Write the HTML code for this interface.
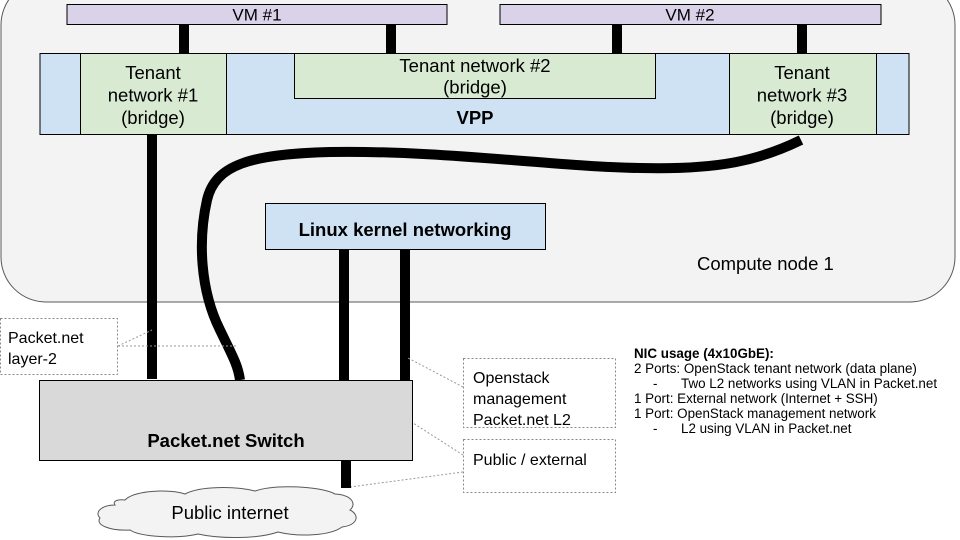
<!DOCTYPE html>
<html><head><meta charset="utf-8"><style>
html,body{margin:0;padding:0;background:#fff;}
svg{display:block;font-family:"Liberation Sans",Arial,sans-serif;}
</style></head><body>
<svg width="960" height="540" viewBox="0 0 960 540" xmlns="http://www.w3.org/2000/svg">
<rect x="1" y="-20" width="954" height="322" rx="45" ry="45" fill="#f3f3f3" stroke="#595959" stroke-width="1"/>
<g fill="#000">
<rect x="179" y="24" width="10" height="30"/>
<rect x="386" y="24" width="10" height="30"/>
<rect x="612" y="24" width="10" height="30"/>
<rect x="797" y="24" width="10" height="30"/>
</g>
<rect x="67" y="4.5" width="380" height="20" fill="#d9d2e9" stroke="#000" stroke-width="1"/>
<text x="257" y="20.5" font-size="17" text-anchor="middle" fill="#000">VM #1</text>
<rect x="500" y="4.5" width="381" height="20" fill="#d9d2e9" stroke="#000" stroke-width="1"/>
<text x="690" y="20.5" font-size="17" text-anchor="middle" fill="#000">VM #2</text>
<rect x="40" y="53.5" width="869" height="81" fill="#cfe2f3" stroke="#000" stroke-width="1"/>
<text x="475" y="124" font-size="18.5" font-weight="bold" text-anchor="middle">VPP</text>
<rect x="80.5" y="53.5" width="146" height="81" fill="#d9ead3" stroke="#000" stroke-width="1"/>
<g font-size="18.5" text-anchor="middle">
<text x="153" y="79">Tenant</text><text x="153" y="101.5">network #1</text><text x="153" y="124">(bridge)</text>
</g>
<rect x="294.5" y="53.5" width="361" height="45" fill="#d9ead3" stroke="#000" stroke-width="1"/>
<g font-size="18.5" text-anchor="middle">
<text x="475" y="72">Tenant network #2</text><text x="475" y="93.5">(bridge)</text>
</g>
<rect x="729.5" y="53.5" width="147" height="81" fill="#d9ead3" stroke="#000" stroke-width="1"/>
<g font-size="18.5" text-anchor="middle">
<text x="802" y="79">Tenant</text><text x="802" y="101.5">network #3</text><text x="802" y="124">(bridge)</text>
</g>
<rect x="147" y="134" width="10" height="245" fill="#000"/>
<path d="M801,140 C760,160 720,170 640,168 C560,167 440,150 330,152 C250,154 215,165 207,200 C198,240 200,290 220,330 C232,355 238,365 240,380" fill="none" stroke="#000" stroke-width="10"/>
<rect x="265.5" y="203.5" width="280" height="46" fill="#cfe2f3" stroke="#000" stroke-width="1"/>
<text x="405" y="236" font-size="18.5" font-weight="bold" text-anchor="middle">Linux kernel networking</text>
<text x="697" y="270" font-size="18.5">Compute node 1</text>
<rect x="339" y="249" width="10" height="131" fill="#000"/>
<rect x="400" y="249" width="10" height="136" fill="#000"/>
<g stroke="#999" stroke-width="1" stroke-dasharray="2,2" fill="none">
<path d="M118,346 L152,330"/>
<path d="M118,346 L236,346"/>
<path d="M463,387 L408,358"/>
<path d="M463,455 L346,380"/>
<path d="M463,472 L350,487"/>
</g>
<rect x="39.5" y="380.5" width="373" height="80" fill="#d9d9d9" stroke="#000" stroke-width="1"/>
<text x="226" y="447" font-size="18.5" font-weight="bold" text-anchor="middle">Packet.net Switch</text>
<rect x="341" y="460" width="10" height="28" fill="#000"/>
<path d="M125,500 C135,490 170,489 185,494 C200,486 235,486 255,491 C275,484 320,486 335,494 C352,495 357,504 350,510 C360,515 358,525 342,527 C330,536 298,537 278,532 C258,539 220,539 198,534 C178,539 140,537 130,530 C110,531 95,525 100,518 C94,512 102,505 115,505 C112,501 118,499 125,500 Z" fill="#f3f3f3" stroke="#595959" stroke-width="1"/>
<text x="230" y="519" font-size="18.5" text-anchor="middle">Public internet</text>
<g fill="#fff" stroke="#888" stroke-width="1" stroke-dasharray="2,2">
<rect x="0.5" y="318.5" width="117" height="56"/>
<rect x="463.5" y="358.5" width="152" height="69"/>
<rect x="463.5" y="439.5" width="152" height="53"/>
</g>
<g font-size="16">
<text x="8" y="343">Packet.net</text><text x="8" y="364">layer-2</text>
<text x="473" y="383">Openstack</text><text x="473" y="404">management</text><text x="473" y="425">Packet.net L2</text>
<text x="473" y="465">Public / external</text>
</g>
<g font-size="13.4">
<text x="634" y="358" font-weight="bold">NIC usage (4x10GbE):</text>
<text x="634" y="373">2 Ports: OpenStack tenant network (data plane)</text>
<text x="653" y="388">-</text><text x="681" y="388">Two L2 networks using VLAN in Packet.net</text>
<text x="634" y="403">1 Port: External network (Internet + SSH)</text>
<text x="634" y="418">1 Port: OpenStack management network</text>
<text x="653" y="433">-</text><text x="681" y="433">L2 using VLAN in Packet.net</text>
</g>
</svg>
</body></html>
